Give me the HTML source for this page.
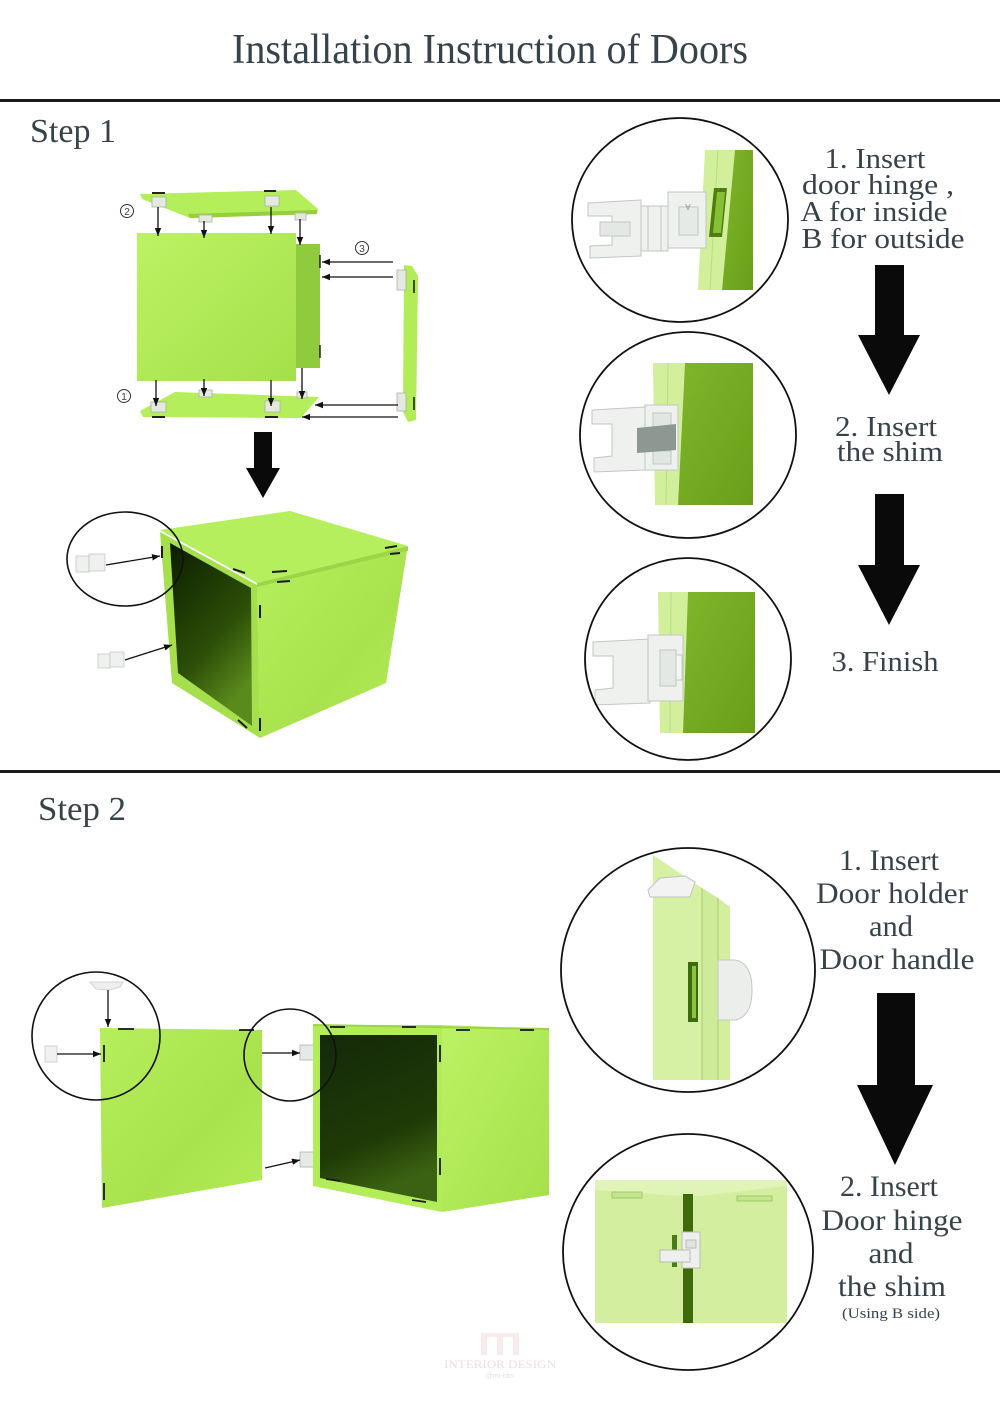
<!DOCTYPE html>
<html><head><meta charset="utf-8">
<style>
html,body{margin:0;padding:0;background:#fff;}
svg{display:block}
text{font-family:"Liberation Serif",serif;fill:#37434a;}
.sans{font-family:"Liberation Sans",sans-serif;}
</style></head><body>
<svg width="1000" height="1415" viewBox="0 0 1000 1415" xmlns="http://www.w3.org/2000/svg">
<defs>
<marker id="ah" viewBox="0 0 10 10" refX="10" refY="5" markerWidth="8" markerHeight="8" orient="auto" markerUnits="userSpaceOnUse"><path d="M0,1 L10,5 L0,9 z" fill="#111"/></marker>
<linearGradient id="lime" x1="0" y1="0" x2="1" y2="1"><stop offset="0" stop-color="#bcf264"/><stop offset="1" stop-color="#a5e04a"/></linearGradient>
<linearGradient id="lime2" x1="0" y1="0" x2="1" y2="1"><stop offset="0" stop-color="#b6ef5c"/><stop offset="0.6" stop-color="#a8e24c"/><stop offset="1" stop-color="#b4ec58"/></linearGradient>
<linearGradient id="dark" x1="0" y1="0" x2="0.5" y2="1"><stop offset="0" stop-color="#0c1d00"/><stop offset="0.65" stop-color="#2c4f08"/><stop offset="1" stop-color="#5a8a1c"/></linearGradient>
<linearGradient id="dark2" x1="0" y1="0" x2="0.3" y2="1"><stop offset="0" stop-color="#14290a"/><stop offset="0.7" stop-color="#1f3a06"/><stop offset="1" stop-color="#3a6212"/></linearGradient>
<linearGradient id="cdark" x1="0" y1="0" x2="1" y2="1"><stop offset="0" stop-color="#7fb62a"/><stop offset="1" stop-color="#6a9e1a"/></linearGradient>
</defs>

<!-- Title -->
<text x="490" y="63" font-size="42" text-anchor="middle" textLength="516" lengthAdjust="spacingAndGlyphs">Installation Instruction of Doors</text>
<rect x="0" y="99" width="1000" height="3" fill="#1a1a1a"/>
<rect x="0" y="770" width="1000" height="3" fill="#1a1a1a"/>

<text x="30" y="142" font-size="34" textLength="86" lengthAdjust="spacingAndGlyphs">Step 1</text>
<text x="38" y="820" font-size="34" textLength="88" lengthAdjust="spacingAndGlyphs">Step 2</text>

<!-- ===== STEP 1 exploded view ===== -->
<!-- top panel -->
<polygon points="140,194 296,190 318,209 317,214 190,218 142,199" fill="#b4ee5a"/>
<polygon points="188,214 317,210 317,214 190,218" fill="#96cf3e"/>
<line x1="152" y1="193" x2="165" y2="193" stroke="#222" stroke-width="2"/>
<line x1="264" y1="191" x2="276" y2="191" stroke="#222" stroke-width="2"/>
<rect x="152" y="197" width="14" height="10" fill="#e4e9e0" stroke="#aab2a6" stroke-width="0.8"/>
<rect x="199" y="215" width="13" height="7" fill="#e4e9e0" stroke="#aab2a6" stroke-width="0.8"/>
<rect x="265" y="196" width="14" height="10" fill="#e4e9e0" stroke="#aab2a6" stroke-width="0.8"/>
<rect x="295" y="213" width="11" height="7" fill="#e4e9e0" stroke="#aab2a6" stroke-width="0.8"/>
<!-- front panel -->
<rect x="137" y="233" width="159" height="148" fill="url(#lime)"/>
<polygon points="296,244 320,244 320,368 296,368" fill="#8fcb3c"/>
<line x1="320" y1="255" x2="320" y2="268" stroke="#222" stroke-width="1.5"/>
<line x1="320" y1="345" x2="320" y2="358" stroke="#222" stroke-width="1.5"/>
<!-- bottom panel -->
<polygon points="175,392 319,397 301,418 143,417 140,411" fill="#b4ee5a"/>
<line x1="152" y1="417" x2="165" y2="417" stroke="#222" stroke-width="2"/>
<line x1="265" y1="417" x2="278" y2="417" stroke="#222" stroke-width="2"/>
<rect x="151" y="402" width="15" height="10" fill="#e4e9e0" stroke="#aab2a6" stroke-width="0.8"/>
<rect x="199" y="390" width="13" height="7" fill="#e4e9e0" stroke="#aab2a6" stroke-width="0.8"/>
<rect x="265" y="401" width="15" height="11" fill="#e4e9e0" stroke="#aab2a6" stroke-width="0.8"/>
<rect x="297" y="392" width="10" height="6" fill="#e4e9e0" stroke="#aab2a6" stroke-width="0.8"/>
<!-- door 3 -->
<polygon points="404,265 412,266 418,276 416,420 408,422 403,412" fill="#b2ec56"/>
<line x1="414" y1="280" x2="414" y2="293" stroke="#222" stroke-width="1.6"/>
<line x1="414" y1="397" x2="414" y2="410" stroke="#222" stroke-width="1.6"/>
<rect x="397" y="270" width="9" height="20" fill="#e4e9e0" stroke="#aab2a6" stroke-width="0.8"/>
<rect x="397" y="393" width="9" height="18" fill="#e4e9e0" stroke="#aab2a6" stroke-width="0.8"/>
<!-- arrows -->
<g stroke="#111" stroke-width="1.3" marker-end="url(#ah)">
<line x1="158" y1="207" x2="158" y2="236"/>
<line x1="204" y1="221" x2="204" y2="238"/>
<line x1="271" y1="207" x2="271" y2="234"/>
<line x1="300" y1="219" x2="300" y2="245"/>
<line x1="156" y1="380" x2="156" y2="406"/>
<line x1="204" y1="379" x2="204" y2="396"/>
<line x1="271" y1="380" x2="271" y2="406"/>
<line x1="302" y1="368" x2="302" y2="399"/>
<line x1="393" y1="262" x2="322" y2="262"/>
<line x1="393" y1="277" x2="322" y2="277"/>
<line x1="398" y1="405" x2="315" y2="405"/>
<line x1="398" y1="417" x2="302" y2="417"/>
</g>
<g fill="none" stroke="#333" stroke-width="1">
<circle cx="127" cy="211" r="6.5"/><circle cx="124" cy="396" r="6.5"/><circle cx="362" cy="248" r="6.5"/>
</g>
<text class="sans" x="127" y="215" font-size="10" text-anchor="middle">2</text>
<text class="sans" x="124" y="400" font-size="10" text-anchor="middle">1</text>
<text class="sans" x="362" y="252" font-size="10" text-anchor="middle">3</text>

<!-- big arrow -->
<polygon points="254,432 272,432 272,468 280,468 263,498 246,468 254,468" fill="#0a0a0a"/>

<!-- ===== STEP 1 cube ===== -->
<polygon points="160,530 290,511 408,546 257,583" fill="#b6ef5e"/>
<polygon points="257,583 408,546 408,551 257,589" fill="#9cd646"/>
<polygon points="257,587 407,551 386,683 260,738" fill="url(#lime2)"/>
<polygon points="160,532 257,585 260,738 172,683" fill="#a6df4c"/>
<polygon points="170,543 251,588 252,726 178,673" fill="url(#dark)"/>
<g stroke="#1a1a1a" stroke-width="2">
<line x1="233" y1="569" x2="245" y2="573"/>
<line x1="272" y1="572" x2="287" y2="571"/>
<line x1="277" y1="582" x2="290" y2="581"/>
<line x1="385" y1="548" x2="397" y2="546"/>
<line x1="390" y1="554" x2="400" y2="553"/>
<line x1="260" y1="605" x2="260" y2="618"/>
<line x1="260" y1="718" x2="260" y2="731"/>
<line x1="162" y1="546" x2="162" y2="558"/>
<line x1="238" y1="720" x2="247" y2="728"/>
</g>
<!-- hinges -->
<g fill="#eef1ee" stroke="#c4cac4" stroke-width="0.8">
<rect x="76" y="556" width="13" height="16"/><rect x="89" y="554" width="16" height="17"/>
<rect x="98" y="654" width="12" height="14"/><rect x="110" y="652" width="14" height="15"/>
</g>
<g stroke="#111" stroke-width="1.3" marker-end="url(#ah)">
<line x1="106" y1="565" x2="160" y2="556"/>
<line x1="125" y1="660" x2="172" y2="645"/>
</g>
<ellipse cx="125" cy="559" rx="58" ry="47" fill="none" stroke="#111" stroke-width="1.6"/>

<!-- ===== STEP 1 circles ===== -->
<!-- circle 1 -->
<polygon points="705,150 735,150 722,290 698,290" fill="#d2ef9c"/>
<line x1="718" y1="150" x2="710" y2="290" stroke="#bcdc84" stroke-width="1"/>
<polygon points="735,150 753,150 753,290 722,290" fill="url(#cdark)"/>
<polygon points="714,188 727,188 722,237 709,237" fill="#4f7d12"/>
<polygon points="717,192 725,192 721,233 713,233" fill="#86c034"/>
<g fill="#eef1ee" stroke="#c2c8c2" stroke-width="1">
<polygon points="588,203 641,200 641,256 590,258 590,246 612,245 612,216 588,216"/>
<rect x="600" y="222" width="30" height="14" fill="#e4e8e4"/>
<rect x="641" y="206" width="27" height="45"/>
<line x1="648" y1="206" x2="648" y2="251"/><line x1="661" y1="206" x2="661" y2="251"/>
<rect x="668" y="192" width="38" height="56"/>
<rect x="679" y="207" width="19" height="28" fill="#e6eae6"/>
</g>
<text class="sans" x="688" y="198" font-size="8" text-anchor="middle" transform="rotate(180 688 201)" style="fill:#999">A</text>
<ellipse cx="680" cy="220" rx="108" ry="102" fill="none" stroke="#111" stroke-width="1.8"/>

<!-- circle 2 -->
<polygon points="653,363 685,363 678,505 655,505" fill="#d2ef9c"/>
<line x1="668" y1="363" x2="666" y2="505" stroke="#bcdc84" stroke-width="1"/>
<polygon points="685,363 753,363 753,505 678,505" fill="url(#cdark)"/>
<g fill="#eef1ee" stroke="#c2c8c2" stroke-width="1">
<polygon points="592,410 645,407 645,470 594,472 594,458 612,456 612,424 592,424"/>
<rect x="645" y="405" width="33" height="65"/>
<rect x="653" y="413" width="18" height="14" fill="#e2e6e2"/>
<rect x="653" y="451" width="18" height="13" fill="#e2e6e2"/>
</g>
<polygon points="637,428 676,424 676,450 637,453" fill="#8d9893"/>
<ellipse cx="688" cy="435" rx="108" ry="103" fill="none" stroke="#111" stroke-width="1.8"/>

<!-- circle 3 -->
<polygon points="658,592 688,592 683,733 660,733" fill="#d2ef9c"/>
<line x1="671" y1="592" x2="670" y2="733" stroke="#bcdc84" stroke-width="1"/>
<polygon points="688,592 755,592 755,733 683,733" fill="url(#cdark)"/>
<g fill="#eef1ee" stroke="#c2c8c2" stroke-width="1">
<polygon points="593,642 650,639 650,703 595,705 595,690 613,688 613,656 593,656"/>
<rect x="648" y="635" width="35" height="66"/>
<rect x="660" y="650" width="16" height="36" fill="#e4e8e4"/>
<rect x="676" y="655" width="6" height="25" fill="#f6f6f6"/>
</g>
<ellipse cx="688" cy="659" rx="103" ry="101" fill="none" stroke="#111" stroke-width="1.8"/>

<!-- step 1 right text -->
<g font-size="28" text-anchor="middle" lengthAdjust="spacingAndGlyphs">
<text x="875" y="168" textLength="101" lengthAdjust="spacingAndGlyphs">1. Insert</text>
<text x="878" y="194" textLength="152" lengthAdjust="spacingAndGlyphs">door hinge ,</text>
<text x="874" y="221" textLength="147" lengthAdjust="spacingAndGlyphs">A for inside</text>
<text x="883" y="248" textLength="163" lengthAdjust="spacingAndGlyphs">B for outside</text>
<text x="886" y="436" textLength="102" lengthAdjust="spacingAndGlyphs">2. Insert</text>
<text x="890" y="461" textLength="106" lengthAdjust="spacingAndGlyphs">the shim</text>
<text x="885" y="671" textLength="107" lengthAdjust="spacingAndGlyphs">3. Finish</text>
</g>
<polygon points="875,265 904,265 904,335 920,335 889,395 858,335 875,335" fill="#0a0a0a"/>
<polygon points="875,494 904,494 904,565 920,565 889,625 858,565 875,565" fill="#0a0a0a"/>

<!-- ===== STEP 2 left ===== -->
<polygon points="100,1028 262,1030 262,1180 102,1208" fill="url(#lime2)"/>
<g stroke="#1a1a1a" stroke-width="1.8">
<line x1="118" y1="1029" x2="134" y2="1029"/>
<line x1="239" y1="1030" x2="254" y2="1030"/>
<line x1="104" y1="1045" x2="104" y2="1062"/>
<line x1="104" y1="1183" x2="104" y2="1200"/>
</g>
<polygon points="90,982 123,982 120,987 110,990 96,989" fill="#eef0ee" stroke="#c6cac6" stroke-width="0.8"/>
<rect x="45" y="1046" width="12" height="16" fill="#f0f2f0" stroke="#c6cac6" stroke-width="0.8"/>
<rect x="300" y="1045" width="17" height="15" fill="#e6eae6" stroke="#aab2aa" stroke-width="0.8"/>
<rect x="300" y="1152" width="17" height="15" fill="#e6eae6" stroke="#aab2aa" stroke-width="0.8"/>
<g stroke="#111" stroke-width="1.3" marker-end="url(#ah)">
<line x1="108" y1="990" x2="108" y2="1027"/>
<line x1="57" y1="1054" x2="101" y2="1054"/>
<line x1="262" y1="1053" x2="300" y2="1053"/>
<line x1="265" y1="1168" x2="300" y2="1160"/>
</g>
<!-- right cube -->
<polygon points="442,1025 549,1029 549,1195 442,1212" fill="url(#lime)"/>
<polygon points="313,1025 442,1025 442,1212 313,1186" fill="#b2ec58"/>
<polygon points="320,1035 437,1035 437,1202 320,1178" fill="url(#dark2)"/>
<line x1="313" y1="1025" x2="549" y2="1029" stroke="#9cd448" stroke-width="2"/>
<g stroke="#1a1a1a" stroke-width="1.8">
<line x1="330" y1="1027" x2="345" y2="1027"/>
<line x1="402" y1="1027" x2="416" y2="1027"/>
<line x1="456" y1="1030" x2="470" y2="1030"/>
<line x1="520" y1="1030" x2="534" y2="1030"/>
<line x1="440" y1="1045" x2="440" y2="1062"/>
<line x1="440" y1="1158" x2="440" y2="1175"/>
<line x1="326" y1="1179" x2="340" y2="1181"/>
<line x1="412" y1="1200" x2="426" y2="1202"/>
</g>
<ellipse cx="96" cy="1036" rx="64" ry="64" fill="none" stroke="#111" stroke-width="1.6"/>
<ellipse cx="290" cy="1055" rx="46" ry="46" fill="none" stroke="#111" stroke-width="1.6"/>

<!-- ===== STEP 2 circles ===== -->
<!-- circle A -->
<polygon points="653,855 702,888 702,1080 653,1080" fill="#d6f1a4"/>
<polygon points="702,888 718,898 718,1080 702,1080" fill="#cdeb98"/>
<polygon points="718,898 730,907 730,1080 718,1080" fill="#d2ee9e"/>
<line x1="702" y1="888" x2="702" y2="1080" stroke="#a8cc78" stroke-width="1"/>
<line x1="718" y1="898" x2="718" y2="1080" stroke="#a8cc78" stroke-width="1"/>
<rect x="688" y="962" width="10" height="60" fill="#3e6a10"/>
<rect x="692" y="966" width="4" height="52" fill="#8cc43c"/>
<path d="M718,960 L735,960 Q752,963 752,990 Q752,1017 735,1020 L718,1020 Z" fill="#eceeec" stroke="#c4c8c4" stroke-width="1"/>
<polygon points="648,890 660,878 685,876 695,882 690,897 650,897" fill="#f2f3f2" stroke="#bfc4bf" stroke-width="1"/>
<ellipse cx="688" cy="970" rx="127" ry="122" fill="none" stroke="#111" stroke-width="1.8"/>

<!-- circle B -->
<rect x="595" y="1180" width="192" height="143" fill="#d2ee9e"/>
<polygon points="595,1180 787,1180 787,1186 700,1196 683,1196 595,1190" fill="#e0f4b8"/>
<rect x="683" y="1194" width="10" height="129" fill="#3e6a0c"/>
<rect x="612" y="1192" width="30" height="6" fill="#c4e490" stroke="#98c060" stroke-width="0.8"/>
<rect x="737" y="1196" width="35" height="5" fill="#c4e490" stroke="#98c060" stroke-width="0.8"/>
<rect x="672" y="1235" width="5" height="32" fill="#4a7a18"/>
<g fill="#eef0ee" stroke="#b8beb8" stroke-width="1">
<rect x="682" y="1232" width="18" height="36"/>
<rect x="660" y="1250" width="30" height="12"/>
<rect x="686" y="1240" width="10" height="8" fill="#e0e4e0"/>
</g>
<ellipse cx="688" cy="1252" rx="125" ry="118" fill="none" stroke="#111" stroke-width="1.8"/>

<!-- step 2 right text -->
<g font-size="30" text-anchor="middle">
<text x="889" y="870" textLength="100" lengthAdjust="spacingAndGlyphs">1. Insert</text>
<text x="892" y="903" textLength="152" lengthAdjust="spacingAndGlyphs">Door holder</text>
<text x="891" y="936" textLength="44" lengthAdjust="spacingAndGlyphs">and</text>
<text x="897" y="969" textLength="155" lengthAdjust="spacingAndGlyphs">Door handle</text>
<text x="889" y="1196" textLength="98" lengthAdjust="spacingAndGlyphs">2. Insert</text>
<text x="892" y="1230" textLength="141" lengthAdjust="spacingAndGlyphs">Door hinge</text>
<text x="891" y="1263" textLength="45" lengthAdjust="spacingAndGlyphs">and</text>
<text x="892" y="1296" textLength="108" lengthAdjust="spacingAndGlyphs">the shim</text>
</g>
<text x="891" y="1318" font-size="15" text-anchor="middle" textLength="98" lengthAdjust="spacingAndGlyphs">(Using B side)</text>
<polygon points="877,993 915,993 915,1085 933,1085 895,1165 857,1085 877,1085" fill="#0a0a0a"/>

<!-- watermark -->
<g opacity="0.35">
<rect x="481" y="1333" width="38" height="4" fill="#f2c8c8"/>
<rect x="481" y="1333" width="6" height="22" fill="#f2c8c8"/>
<rect x="497" y="1333" width="6" height="22" fill="#f2c8c8"/>
<rect x="513" y="1333" width="6" height="22" fill="#f2c8c8"/>
</g>
<text x="500" y="1368" font-size="12" text-anchor="middle" style="fill:#eadede" textLength="112" lengthAdjust="spacingAndGlyphs">INTERIOR DESIGN</text>
<text class="sans" x="500" y="1378" font-size="7" text-anchor="middle" style="fill:#e6e0e0">@mt-bbs</text>
</svg>
</body></html>
